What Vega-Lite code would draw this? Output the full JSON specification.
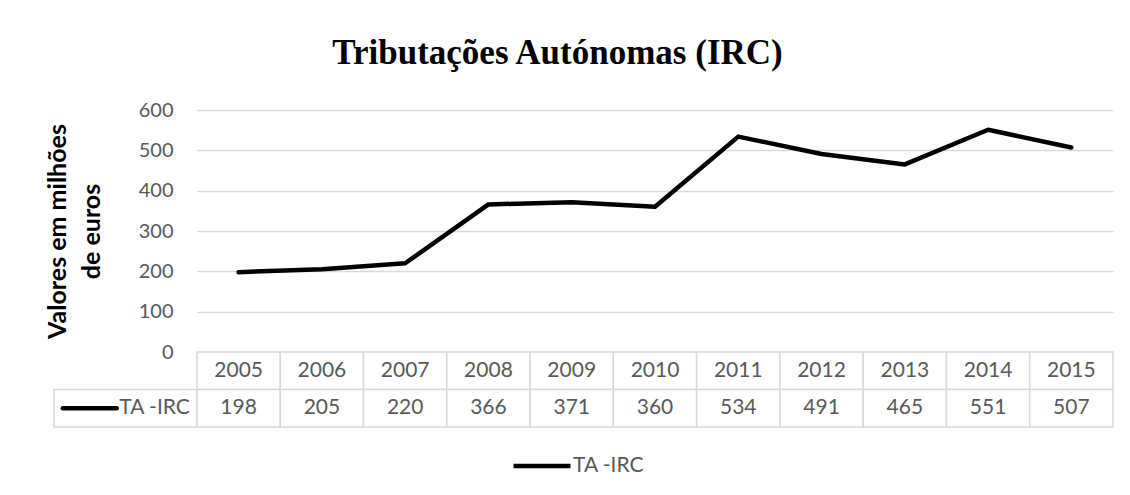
{
  "$schema": "https://vega.github.io/schema/vega-lite/v6.json",
  "background": "white",
  "padding": {"left": 45, "top": 36, "right": 5, "bottom": 0},
  "title": {
    "text": "Tributações Autónomas (IRC)",
    "font": "Liberation Serif",
    "fontSize": 35,
    "fontWeight": "bold",
    "color": "black",
    "anchor": "middle",
    "offset": 29,
    "dx": -22
  },
  "datasets": {
    "ta": [
      {"year": 2005, "value": 198, "series": "TA -IRC"},
      {"year": 2006, "value": 205, "series": "TA -IRC"},
      {"year": 2007, "value": 220, "series": "TA -IRC"},
      {"year": 2008, "value": 366, "series": "TA -IRC"},
      {"year": 2009, "value": 371, "series": "TA -IRC"},
      {"year": 2010, "value": 360, "series": "TA -IRC"},
      {"year": 2011, "value": 534, "series": "TA -IRC"},
      {"year": 2012, "value": 491, "series": "TA -IRC"},
      {"year": 2013, "value": 465, "series": "TA -IRC"},
      {"year": 2014, "value": 551, "series": "TA -IRC"},
      {"year": 2015, "value": 507, "series": "TA -IRC"}
    ]
  },
  "columns": 2,
  "spacing": 0,
  "bounds": "flush",
  "align": "each",
  "concat": [
    {
      "width": 143,
      "height": 242,
      "data": {"values": [{"series": "TA -IRC"}]},
      "mark": {"type": "point", "opacity": 0},
      "encoding": {}
    },
    {
      "width": 916,
      "height": 242,
      "data": {"name": "ta"},
      "mark": {"type": "line", "strokeWidth": 4.5, "strokeCap": "round", "strokeJoin": "round"},
      "encoding": {
        "x": {"field": "year", "type": "ordinal", "scale": {"type": "point", "padding": 0.5}, "axis": null},
        "y": {
          "field": "value",
          "type": "quantitative",
          "scale": {"domain": [0, 600], "nice": false},
          "axis": {
            "values": [0, 100, 200, 300, 400, 500, 600],
            "title": ["Valores em milhões", "de euros"],
            "titleFont": "Lato",
            "titleFontSize": 25,
            "titleFontWeight": "bold",
            "titleColor": "black",
            "titleLineHeight": 34,
            "titlePadding": 34,
            "labelFont": "Lato",
            "labelFontSize": 20,
            "labelColor": "#595959",
            "labelPadding": 24,
            "ticks": false,
            "tickSize": 0,
            "domain": false,
            "grid": true,
            "gridColor": "#d9d9d9",
            "gridWidth": 1.5
          }
        },
        "color": {
          "field": "series",
          "type": "nominal",
          "scale": {"range": ["black"]},
          "legend": {
            "orient": "none",
            "legendX": 457,
            "legendY": 325,
            "title": null,
            "symbolType": "stroke",
            "symbolSize": 3249,
            "symbolStrokeWidth": 4.5,
            "labelFont": "Lato",
            "labelFontSize": 21,
            "labelColor": "#595959",
            "labelOffset": 0,
            "padding": 0
          }
        }
      }
    },
    {
      "width": 143,
      "height": 75,
      "data": {"values": [{"series": "TA -IRC", "row": "value"}]},
      "encoding": {
        "y": {"field": "row", "type": "nominal", "scale": {"domain": ["year", "value"], "paddingInner": 0, "paddingOuter": 0}, "axis": null}
      },
      "layer": [
        {
          "mark": {"type": "rect", "fill": "white", "stroke": "#d9d9d9", "strokeWidth": 1.5},
          "encoding": {
            "x": {"field": "series", "type": "nominal", "scale": {"paddingInner": 0, "paddingOuter": 0}, "axis": null}
          }
        },
        {
          "mark": {"type": "point", "shape": "stroke", "size": 2900, "stroke": "black", "strokeWidth": 4.5, "strokeCap": "round", "opacity": 1},
          "encoding": {
            "x": {"field": "series", "type": "nominal", "bandPosition": 0.25, "axis": null}
          }
        },
        {
          "mark": {"type": "text", "align": "right", "baseline": "middle", "font": "Lato", "fontSize": 21, "color": "#595959"},
          "encoding": {
            "x": {"field": "series", "type": "nominal", "bandPosition": 0.95, "axis": null},
            "text": {"field": "series"}
          }
        }
      ]
    },
    {
      "width": 916,
      "height": 75,
      "data": {"name": "ta"},
      "transform": [
        {"fold": ["year", "value"], "as": ["row", "cell"]}
      ],
      "encoding": {
        "x": {"field": "year", "type": "ordinal", "scale": {"type": "band", "paddingInner": 0, "paddingOuter": 0}, "axis": null},
        "y": {"field": "row", "type": "nominal", "scale": {"domain": ["year", "value"], "paddingInner": 0, "paddingOuter": 0}, "axis": null}
      },
      "layer": [
        {
          "mark": {"type": "rect", "fill": "white", "stroke": "#d9d9d9", "strokeWidth": 1.5}
        },
        {
          "mark": {"type": "text", "align": "center", "baseline": "middle", "font": "Lato", "fontSize": 21, "color": "#595959"},
          "encoding": {
            "text": {"field": "cell", "type": "nominal"}
          }
        }
      ]
    }
  ],
  "config": {
    "view": {"stroke": null},
    "font": "Lato"
  }
}
